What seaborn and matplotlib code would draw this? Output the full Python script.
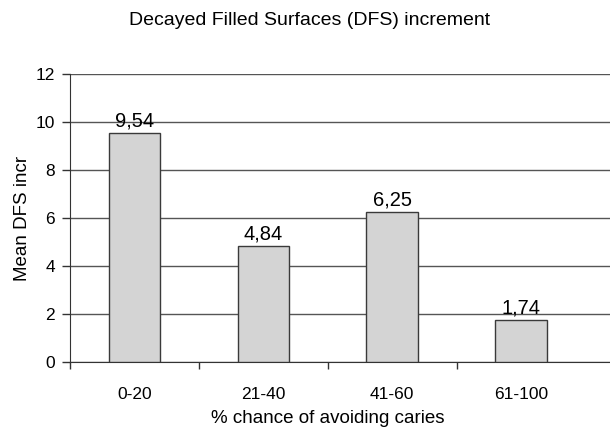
import numpy as np
import pandas as pd
import matplotlib
matplotlib.use("Agg")
import matplotlib.pyplot as plt
import seaborn as sns

# data
groups = ["0-20", "21-40", "41-60", "61-100"]
mean_dfs = [9.54, 4.84, 6.25, 1.74]
y_ticks = [0, 2, 4, 6, 8, 10, 12]

df = pd.DataFrame({"group": groups, "dfs": mean_dfs})

sns.set_style("white", {"text.color": "black", "axes.labelcolor": "black",
                        "xtick.color": "black", "ytick.color": "black"})
plt.rcParams['font.family'] = ['Liberation Sans', 'DejaVu Sans']

fig = plt.figure(figsize=(6.10, 4.28), dpi=100)
ax = fig.add_axes([0.1148, 0.154, 0.8852, 0.673])

sns.barplot(data=df, x="group", y="dfs", color="#d4d4d4", width=0.4,
            edgecolor="#3a3a3a", linewidth=1.0, saturation=1, ax=ax, zorder=3)

# value labels with decimal comma
labels = [("%.2f" % v).replace(".", ",") for v in mean_dfs]
ax.bar_label(ax.containers[0], labels=labels, padding=2, fontsize=14.5, color="black")

ax.set_ylim(0, 12)
ax.set_yticks(y_ticks)
ax.set_xlim(-0.5, 3.69)
ax.yaxis.grid(True, color="#555555", linewidth=1.0, zorder=0)
ax.set_axisbelow(True)

# category boundary ticks on x
ax.set_xticks([-0.5, 0.5, 1.5, 2.5])
ax.set_xticklabels([])
ax.set_xticks(range(len(groups)), minor=True)
ax.set_xticklabels(groups, minor=True)
ax.tick_params(axis="x", which="major", bottom=True, direction="out", length=5, width=1, color="#333333")
ax.tick_params(axis="x", which="minor", bottom=False, length=0, pad=18, labelsize=12.5)
ax.tick_params(axis="y", left=True, direction="out", length=6, width=1, color="#333333",
               labelsize=12.5, pad=5)

for s in ["top", "right"]:
    ax.spines[s].set_visible(False)
ax.spines["left"].set_color("#333333")
ax.spines["bottom"].set_color("#333333")

ax.set_xlabel("% chance of avoiding caries", fontsize=13.5)
ax.xaxis.set_label_coords(2.0 / 4.19, -0.165)
ax.set_ylabel("Mean DFS incr", fontsize=13.5, labelpad=3)
fig.text(0.507, 0.952, "Decayed Filled Surfaces (DFS) increment", ha="center", va="center",
         fontsize=14, color="black")

fig.savefig("out.png", dpi=100)
